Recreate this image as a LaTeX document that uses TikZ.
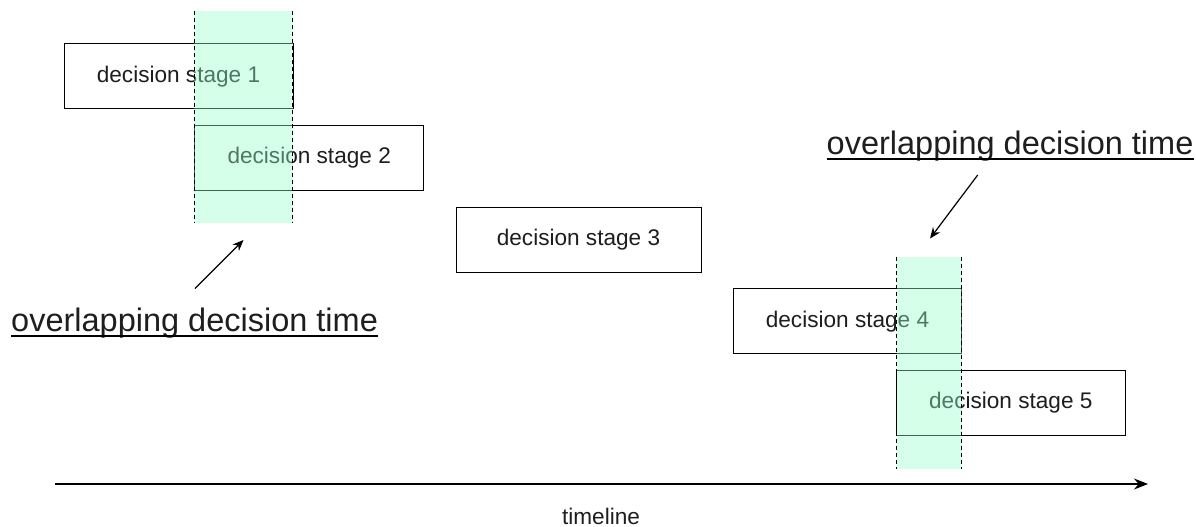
\documentclass[tikz,border=0pt]{standalone}
\usepackage{fontspec}
\setmainfont{Liberation Sans}
\usetikzlibrary{arrows.meta}
\definecolor{bandgreen}{RGB}{153,255,204}
\definecolor{txt}{RGB}{30,30,30}
\tikzset{
  stagebox/.style={draw=black, line width=1pt, fill=white, minimum width=229pt, minimum height=65pt, inner sep=0pt, font=\fontsize{22.6}{26}\selectfont, text=txt},
  bandfill/.style={fill=bandgreen, fill opacity=0.4, draw=none},
  bandline/.style={draw=black, line width=0.9pt, dash pattern=on 4pt off 3pt},
  lbl/.style={inner sep=0pt, font=\fontsize{32.5}{36}\selectfont, text=txt, anchor=base west},
  uline/.style={draw=black, line width=2pt},
  pointer/.style={draw=black, line width=1.2pt, -{Stealth[length=11pt,width=9pt]}},
}
\begin{document}
\begin{tikzpicture}[x=1pt,y=-1pt]
\useasboundingbox (0,0) rectangle (1196,527);
% boxes
\node[stagebox] (s1) at (178.5,76.3) {decision stage 1};
\node[stagebox] (s2) at (309.2,158) {decision stage 2};
\node[stagebox, minimum width=245pt] (s3) at (578.5,239.5) {decision stage 3};
\node[stagebox, minimum width=228.5pt] (s4) at (847.5,321.2) {decision stage 4};
\node[stagebox] (s5) at (1010.8,402.5) {decision stage 5};
% band 1
\coordinate (b1tl) at (194,11.5);
\coordinate (b1br) at (292.7,222.5);
\fill[bandfill] (b1tl) rectangle (b1br);
\draw[bandline] (b1tl) -- (b1tl |- b1br);
\draw[bandline] (b1br |- b1tl) -- (b1br);
% band 2
\coordinate (b2tl) at (896.7,256.5);
\coordinate (b2br) at (961.7,468.5);
\fill[bandfill] (b2tl) rectangle (b2br);
\draw[bandline] (b2tl) -- (b2tl |- b2br);
\draw[bandline] (b2br |- b2tl) -- (b2br);
% labels
\node[lbl] (l1) at (11,331.5) {overlapping decision time};
\draw[uline] ([yshift=-4.5pt]l1.base west) -- ([yshift=-4.5pt]l1.base east);
\node[lbl] (l2) at (826.5,154.5) {overlapping decision time};
\draw[uline] ([yshift=-4pt]l2.base west) -- ([yshift=-4pt]l2.base east);
% pointers
\coordinate (a1t) at (195,288.5);
\coordinate (a1h) at (243.5,240);
\draw[pointer] (a1t) -- (a1h);
\coordinate (a2t) at (977.7,175);
\coordinate (a2h) at (930,238.5);
\draw[pointer] (a2t) -- (a2h);
% timeline
\coordinate (t0) at (55,484);
\coordinate (t1) at (1148,484);
\draw[draw=black, line width=1.2pt, -{Stealth[length=14pt,width=11pt]}] (t0) -- (t1);
\node[inner sep=0pt, anchor=base, font=\fontsize{22.6}{26}\selectfont, text=txt] (tl) at (601,524) {timeline};
\end{tikzpicture}
\end{document}
